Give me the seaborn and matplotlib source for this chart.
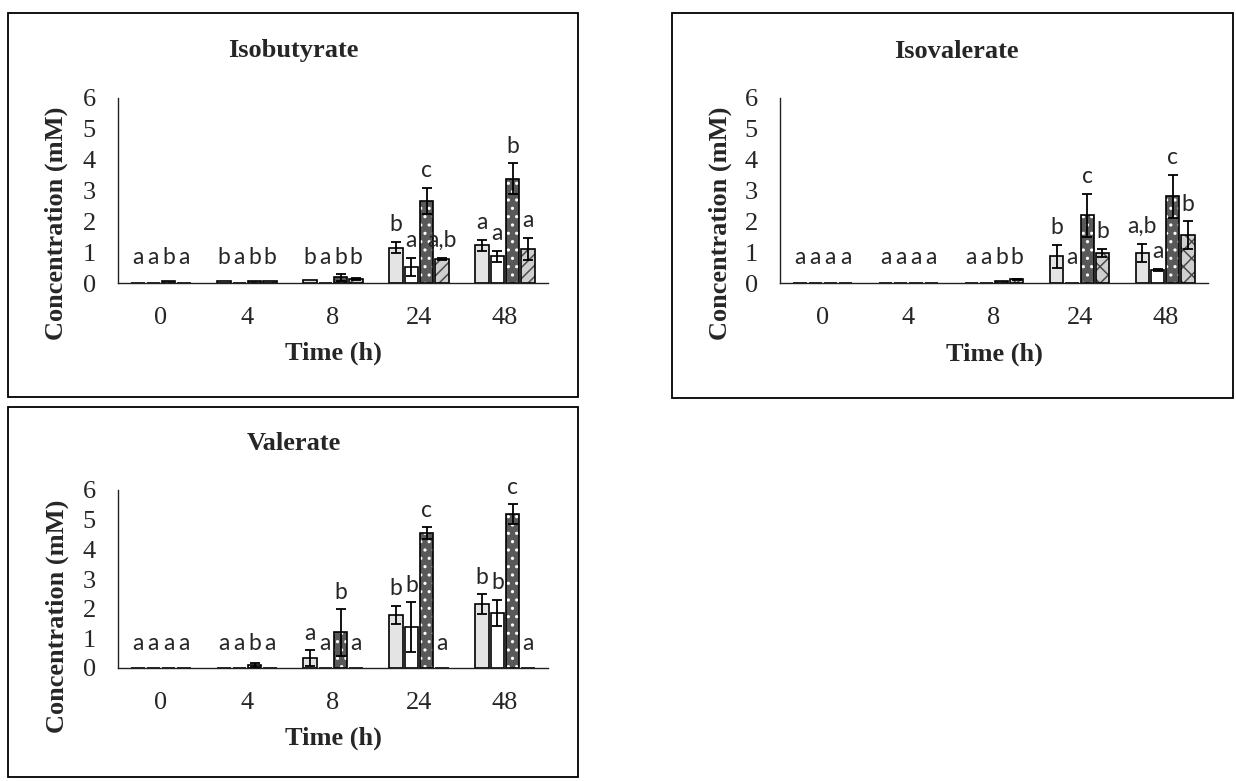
import numpy as np
import pandas as pd
import matplotlib
matplotlib.use("Agg")
import matplotlib.pyplot as plt
import seaborn as sns
from matplotlib.patches import Rectangle

# ---------------- data ----------------
times = ["0", "4", "8", "24", "48"]
groups = ["Group 1", "Group 2", "Group 3", "Group 4"]

# Isobutyrate
isobutyrate_g1 = [0.00, 0.07, 0.10, 1.15, 1.22]
isobutyrate_g2 = [0.00, 0.00, 0.00, 0.52, 0.86]
isobutyrate_g3 = [0.07, 0.07, 0.18, 2.66, 3.38]
isobutyrate_g4 = [0.00, 0.07, 0.14, 0.79, 1.11]
isobutyrate_err_g1 = [0.00, 0.00, 0.00, 0.18, 0.17]
isobutyrate_err_g2 = [0.00, 0.00, 0.00, 0.30, 0.17]
isobutyrate_err_g3 = [0.00, 0.00, 0.10, 0.43, 0.50]
isobutyrate_err_g4 = [0.00, 0.00, 0.03, 0.03, 0.35]
isobutyrate_let_g1 = ["a", "b", "b", "b", "a"]
isobutyrate_let_g2 = ["a", "a", "a", "a", "a"]
isobutyrate_let_g3 = ["b", "b", "b", "c", "b"]
isobutyrate_let_g4 = ["a", "b", "b", "a,b", "a"]

# Isovalerate
isovalerate_g1 = [0.00, 0.00, 0.00, 0.86, 0.98]
isovalerate_g2 = [0.00, 0.00, 0.00, 0.00, 0.43]
isovalerate_g3 = [0.00, 0.00, 0.08, 2.19, 2.81]
isovalerate_g4 = [0.00, 0.00, 0.12, 0.98, 1.55]
isovalerate_err_g1 = [0.00, 0.00, 0.00, 0.38, 0.30]
isovalerate_err_g2 = [0.00, 0.00, 0.00, 0.00, 0.03]
isovalerate_err_g3 = [0.00, 0.00, 0.00, 0.70, 0.70]
isovalerate_err_g4 = [0.00, 0.00, 0.02, 0.13, 0.45]
isovalerate_let_g1 = ["a", "a", "a", "b", "a,b"]
isovalerate_let_g2 = ["a", "a", "a", "a", "a"]
isovalerate_let_g3 = ["a", "a", "b", "c", "c"]
isovalerate_let_g4 = ["a", "a", "b", "b", "b"]

# Valerate
valerate_g1 = [0.00, 0.00, 0.33, 1.79, 2.15]
valerate_g2 = [0.00, 0.00, 0.00, 1.37, 1.85]
valerate_g3 = [0.00, 0.10, 1.20, 4.54, 5.18]
valerate_g4 = [0.00, 0.00, 0.00, 0.00, 0.00]
valerate_err_g1 = [0.00, 0.00, 0.26, 0.31, 0.34]
valerate_err_g2 = [0.00, 0.00, 0.00, 0.84, 0.45]
valerate_err_g3 = [0.00, 0.07, 0.78, 0.20, 0.34]
valerate_err_g4 = [0.00, 0.00, 0.00, 0.00, 0.00]
valerate_let_g1 = ["a", "a", "a", "b", "b"]
valerate_let_g2 = ["a", "a", "a", "b", "b"]
valerate_let_g3 = ["a", "b", "b", "c", "c"]
valerate_let_g4 = ["a", "a", "a", "a", "a"]

yticks = [0, 1, 2, 3, 4, 5, 6]

# ---------------- style ----------------
sns.set_style("white")
plt.rcParams["font.family"] = ["Liberation Serif", "DejaVu Serif"]
plt.rcParams["hatch.linewidth"] = 1.1

W, H = 1236, 781
fig = plt.figure(figsize=(W / 100, H / 100), dpi=100)
fig.patch.set_facecolor("white")

face_colors = ["#e4e4e4", "#ffffff", "#595959", "#cfcfcf"]
SERIF = ["Liberation Serif", "DejaVu Serif"]


def px_rect(x0, y0, x1, y1):
    return [x0 / W, 1 - y1 / H, (x1 - x0) / W, (y1 - y0) / H]


def draw_panel(axbox, frame, title, title_xy, means, errs, letters,
               hatch4, xlab_y, ylab_xy):
    # frame around the panel
    fx0, fy0, fx1, fy1 = frame
    fig.add_artist(Rectangle((fx0 / W, 1 - fy1 / H), (fx1 - fx0) / W,
                             (fy1 - fy0) / H, transform=fig.transFigure,
                             fill=False, edgecolor="black", linewidth=1.3))
    fig.text(title_xy[0] / W, 1 - title_xy[1] / H, title, ha="center",
             va="center", fontsize=19, fontweight="bold", family=SERIF)

    ax = fig.add_axes(px_rect(*axbox))
    rows = []
    for g, vals in zip(groups, means):
        for t, v in zip(times, vals):
            rows.append({"time": t, "group": g, "value": v})
    df = pd.DataFrame(rows)
    sns.barplot(data=df, x="time", y="value", hue="group", order=times,
                hue_order=groups, palette=face_colors, width=0.71, gap=0.12,
                errorbar=None, edgecolor="black", linewidth=1.2,
                legend=False, ax=ax, zorder=2)

    hatches = [None, None, "..", hatch4]
    hatch_cols = [None, None, "white", "#4a4a4a"]
    bar_conts = list(ax.containers)
    for gi, cont in enumerate(bar_conts):
        for bar in cont.patches:
            xc = bar.get_x() + bar.get_width() / 2
            ti = int(round(xc))
            h = means[gi][ti]
            e = errs[gi][ti]
            if hatches[gi]:
                bar.set_hatch(hatches[gi])
                bar.set_edgecolor(hatch_cols[gi])
                bar.set_linewidth(0)
                ax.add_patch(Rectangle((bar.get_x(), bar.get_y()),
                                       bar.get_width(), bar.get_height(),
                                       fill=False, edgecolor="black",
                                       linewidth=1.2, zorder=2.5))
            if e > 0:
                ax.errorbar(xc, h, yerr=e, fmt="none", ecolor="black",
                            elinewidth=1.3, capsize=3.5, capthick=1.3,
                            zorder=4)
            ax.text(xc, max(h + e + 0.35, 0.6), letters[gi][ti],
                    ha="center", va="baseline", fontsize=16.5,
                    family=["Lato", "DejaVu Sans"], zorder=5)

    ax.set_xlim(-0.5, 4.5)
    ax.set_ylim(0, 6)
    ax.set_yticks(yticks)
    ax.set_yticklabels([str(v) for v in yticks])
    ax.tick_params(axis="both", length=0, labelsize=19)
    ax.tick_params(axis="x", pad=17)
    ax.tick_params(axis="y", pad=16)
    for s in ["top", "right"]:
        ax.spines[s].set_visible(False)
    for s in ["left", "bottom"]:
        ax.spines[s].set_color("#222222")
        ax.spines[s].set_linewidth(1.0)
    ax.set_xlabel("Time (h)", fontsize=19, fontweight="bold", family=SERIF)
    ax.set_ylabel("Concentration (mM)", fontsize=19, fontweight="bold",
                  family=SERIF)
    ax.xaxis.set_label_coords(0.5, xlab_y)
    ax.xaxis.label.set_va("center")
    ax.yaxis.set_label_coords(ylab_xy[0], ylab_xy[1])
    ax.yaxis.label.set_va("center")
    ax.grid(False)
    return ax


draw_panel((118, 98, 548, 283), (8, 13, 578, 397), "Isobutyrate", (293, 51),
           [isobutyrate_g1, isobutyrate_g2, isobutyrate_g3, isobutyrate_g4],
           [isobutyrate_err_g1, isobutyrate_err_g2, isobutyrate_err_g3,
            isobutyrate_err_g4],
           [isobutyrate_let_g1, isobutyrate_let_g2, isobutyrate_let_g3,
            isobutyrate_let_g4],
           "///", -0.38, (-0.144, 0.324))

draw_panel((780, 98, 1208, 283), (672, 13, 1233, 398), "Isovalerate", (956, 51),
           [isovalerate_g1, isovalerate_g2, isovalerate_g3, isovalerate_g4],
           [isovalerate_err_g1, isovalerate_err_g2, isovalerate_err_g3,
            isovalerate_err_g4],
           [isovalerate_let_g1, isovalerate_let_g2, isovalerate_let_g3,
            isovalerate_let_g4],
           "xx", -0.385, (-0.14, 0.324))

draw_panel((118, 490, 548, 668), (8, 407, 578, 777), "Valerate", (294, 444),
           [valerate_g1, valerate_g2, valerate_g3, valerate_g4],
           [valerate_err_g1, valerate_err_g2, valerate_err_g3,
            valerate_err_g4],
           [valerate_let_g1, valerate_let_g2, valerate_let_g3,
            valerate_let_g4],
           "///", -0.395, (-0.141, 0.292))

fig.savefig("out.png", dpi=100, facecolor="white")
